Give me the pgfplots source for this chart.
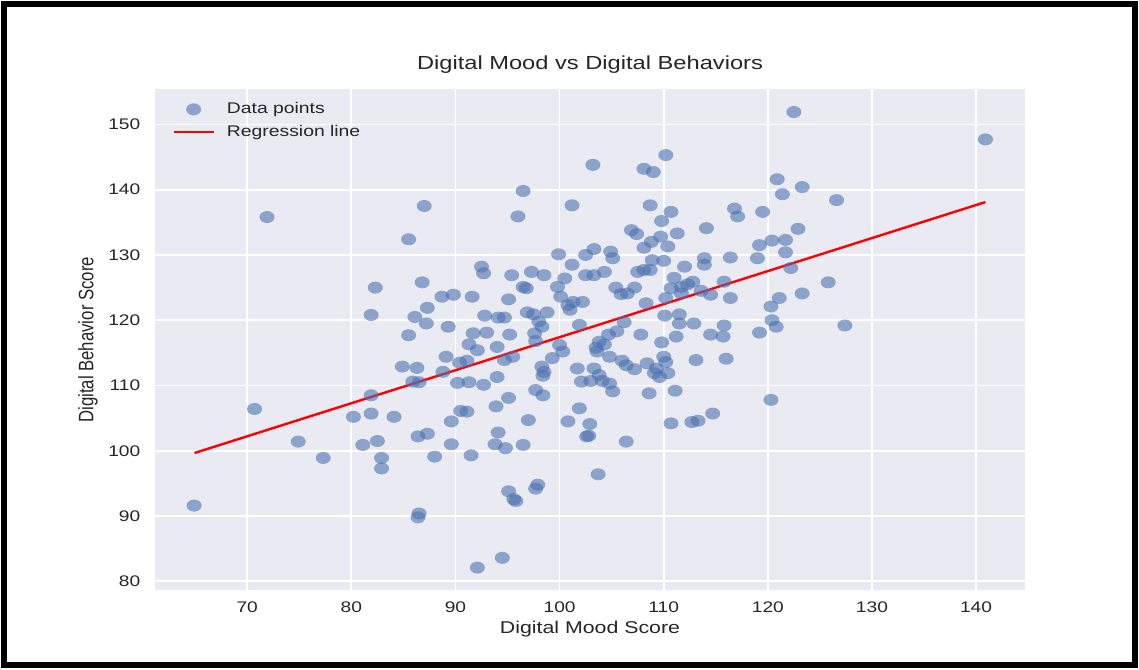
\documentclass[border=0pt]{standalone}
\usepackage{pgfplots}
\usepackage{pgfplotstable}
\pgfplotsset{compat=1.18}
\usepackage{fontspec}
\setmainfont{Liberation Sans}[FakeStretch=1.25]
\newfontfamily\rotfont{Liberation Sans}[FakeStretch=0.8]
\definecolor{bgc}{HTML}{EAEAF2}
\definecolor{txt}{HTML}{262626}
\definecolor{dot}{HTML}{4C72B0}

\pgfplotsset{
  dotlegend/.style={legend image code/.code={%
    \path[draw=none] (0pt,0pt) -- (38pt,0pt);
    \draw[mark repeat=2,mark phase=2,##1]
      plot coordinates {(0pt,0pt) (15pt,0pt) (30pt,0pt)};}},
  linelegend/.style={legend image code/.code={%
    \path[draw=none] (0pt,0pt) -- (38pt,0pt);
    \draw[##1, line width=2pt] (0pt,0pt) -- (30pt,0pt);}},
}

% Digital mood score (x) against digital behavior score (y)
\pgfplotstableread{
x y
64.9 91.6
70.7 106.4
71.9 135.8
74.9 101.4
77.3 98.9
80.2 105.2
81.1 100.9
81.9 108.5
81.9 105.7
82.3 125.0
81.9 120.8
82.5 101.5
82.9 98.9
82.9 97.3
84.1 105.2
84.9 112.9
85.5 132.4
85.5 117.7
85.9 110.6
86.1 120.5
86.3 112.7
86.4 102.2
86.5 110.5
86.5 90.4
86.4 89.8
86.8 125.8
87.0 137.5
87.2 119.5
87.3 121.9
87.3 102.6
88.0 99.1
88.7 123.6
88.8 112.1
89.1 114.4
89.3 119.0
89.6 104.5
89.6 101.0
89.8 123.9
90.2 110.4
90.4 113.5
90.5 106.1
91.1 106.0
91.1 113.8
91.3 116.3
91.3 110.5
91.5 99.3
91.6 123.6
91.7 118.0
92.1 115.4
92.1 82.1
92.5 128.2
92.7 127.2
92.7 110.1
92.8 120.7
93.0 118.1
93.8 101.0
93.9 106.8
94.0 115.9
94.0 111.3
94.1 120.4
94.1 102.8
94.5 83.6
94.7 120.4
94.7 113.9
94.8 100.4
95.1 123.2
95.1 108.1
95.1 93.8
95.2 117.8
95.4 126.9
95.5 114.4
95.8 92.3
95.6 92.6
96.0 135.9
96.5 139.8
96.5 125.1
96.8 124.9
96.5 100.9
96.9 121.2
97.0 104.7
97.3 127.4
97.5 120.9
97.6 118.0
97.7 116.8
97.7 109.3
97.7 94.2
97.9 94.8
98.0 119.8
98.3 119.0
98.3 112.9
98.4 111.5
98.4 108.5
98.5 126.9
98.5 112.1
98.8 121.2
99.3 114.2
99.8 125.1
99.9 130.1
100.0 116.2
100.1 123.6
100.3 115.2
100.5 126.4
100.8 122.3
100.8 104.5
101.0 121.6
101.2 137.6
101.2 128.5
101.3 122.8
101.7 112.6
101.9 119.3
101.9 106.5
102.1 110.6
102.2 122.8
102.5 130.0
102.5 126.9
102.9 104.1
102.6 102.2
102.8 102.3
103.2 143.8
103.3 130.9
103.3 126.9
103.3 112.6
103.0 110.7
103.5 115.8
103.6 115.2
103.7 96.4
103.8 116.7
103.8 111.6
104.1 110.7
104.3 127.4
104.3 116.3
104.7 117.8
104.8 114.4
104.8 110.3
104.9 130.5
105.1 129.5
105.1 109.1
105.4 125.0
105.5 118.3
105.9 124.0
106.0 113.8
106.2 119.7
106.4 113.1
106.4 101.4
106.5 124.1
106.9 133.8
107.2 125.0
107.2 112.5
107.4 133.2
107.5 127.4
107.8 117.8
108.1 143.2
108.1 131.1
108.1 127.7
108.3 122.6
108.4 113.4
108.6 108.8
108.7 137.6
108.7 127.7
108.8 132.0
108.9 129.2
109.0 142.7
109.1 111.9
109.3 112.6
109.6 111.3
109.7 132.8
109.8 135.2
109.8 116.6
110.0 129.1
110.0 114.4
110.1 120.7
110.2 145.3
110.2 123.4
110.2 113.6
110.4 131.3
110.4 111.9
110.7 136.6
110.7 124.9
110.7 104.2
111.0 126.5
111.1 109.2
111.2 117.5
111.3 133.3
111.5 120.9
111.5 119.5
111.7 125.1
111.7 124.1
112.0 128.2
112.3 125.5
112.7 104.4
112.8 125.9
112.9 119.5
113.1 113.9
113.3 104.6
113.6 124.5
113.9 129.5
113.9 128.5
114.1 134.1
114.5 123.9
114.5 117.8
114.7 105.7
115.7 117.5
115.8 125.9
115.8 119.2
116.0 114.1
116.4 123.4
116.4 129.6
116.8 137.1
117.1 135.9
119.0 129.5
119.2 131.5
119.2 118.1
119.5 136.6
120.3 122.1
120.3 107.8
120.4 132.2
120.4 120.0
120.8 119.0
120.9 141.6
121.1 123.4
121.4 139.3
121.7 132.3
121.7 130.4
122.2 128.0
122.5 151.9
122.9 134.0
123.3 140.4
123.3 124.1
125.8 125.8
126.6 138.4
127.4 119.2
140.9 147.7
}\moodtable

\begin{document}
\begin{tikzpicture}
\path[use as bounding box] (0,0) rectangle (854.25pt,501.75pt);
\fill[white] (0,0) rectangle (854.25pt,501.75pt);
\draw[black, line width=4.5pt] (2.8pt,2.8pt) rectangle (851.45pt,498.95pt);
\begin{axis}[
  at={(116.25pt,58.9pt)}, anchor=south west,
  scale only axis, width=652.5pt, height=376pt,
  xmin=61.14, xmax=144.7, ymin=78.6, ymax=155.4,
  axis background/.style={fill=bgc},
  axis line style={draw=none},
  major tick style={draw=none},
  xtick={70,80,...,140}, ytick={80,90,...,150},
  grid=major, major grid style={white, line width=1.3pt},
  /pgf/number format/assume math mode=true,
  ticklabel style={font=\fontsize{11.5}{13}\selectfont, text=txt},
  xticklabel style={yshift=-5pt},
  yticklabel style={xshift=-7.5pt},
  title={Digital Mood vs Digital Behaviors},
  title style={font=\fontsize{14.2}{16}\selectfont, text=txt,
    at={(axis description cs:0.5,1.032)}, anchor=center},
  xlabel={Digital Mood Score},
  xlabel style={font=\fontsize{12.8}{15}\selectfont, text=txt,
    at={(axis description cs:0.5,-0.078)}, anchor=center},
  ylabel={Digital Behavior Score},
  ylabel style={font=\rotfont\fontsize{15.7}{18}\selectfont, text=txt,
    at={(axis description cs:-0.077,0.5)}, anchor=center},
  legend style={draw=none, fill=none, font=\fontsize{11.6}{13}\selectfont,
    text=txt, at={(axis description cs:0.015,0.984)}, anchor=north west,
    row sep=3pt},
  legend cell align=left,
]
\addplot[only marks, mark=*, mark size=4.5pt,
  mark options={xscale=1.25, draw opacity=0, fill=dot, fill opacity=0.6},
  dotlegend]
  table {\moodtable};
\addlegendentry{Data points}
\addplot[red, line width=1.8pt, no marks, linelegend]
  coordinates {(64.94,99.66) (140.9,138.1)};
\addlegendentry{Regression line}
\end{axis}
\end{tikzpicture}
\end{document}
